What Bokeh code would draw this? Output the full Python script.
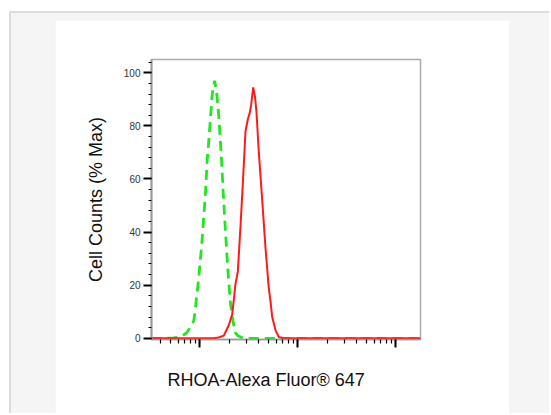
from bokeh.plotting import figure
from bokeh.models import Range1d, SingleIntervalTicker, LogTicker, Title
from bokeh.layouts import column
from bokeh.embed import file_html
from bokeh.resources import INLINE

# ---- data (fluorescence intensity, % of max) ----
control_x = [321, 447, 540, 635, 731, 804, 869, 904, 977, 1058, 1143, 1190, 1265, 1339,
             1413, 1481, 1563, 1653, 1732, 1829, 1931, 2058, 2191, 2312, 2442, 2793,
             4160, 10650, 178600]
control_y = [0, 0, 0.2, 0.5, 2, 4.2, 6.7, 11.7, 23, 37.5, 55, 67, 79.5, 92,
             97, 93.3, 83.3, 69.5, 55, 40, 26, 13, 6, 2, 1, 0,
             0, 0, 0]

rhoa_x = [321, 1380, 1552, 1758, 1977, 2142, 2261, 2312, 2442, 2600, 2771, 2926, 3090,
          3237, 3345, 3505, 3656, 3790, 4000, 4333, 4680, 5055, 5260, 5480, 5920,
          6397, 7140, 178600]
rhoa_y = [0, 0, 0.3, 1, 5, 9, 17, 20.5, 25, 42, 61, 78, 82.5,
          85, 88, 94.5, 91, 85, 70, 52, 34, 19, 14, 8, 3,
          0.5, 0, 0]

y_label = "Cell Counts (% Max)"
x_label = "RHOA-Alexa Fluor\u00ae 647"

FONT = "Liberation Sans"

p = figure(width=454, height=393, x_axis_type="log",
           x_range=Range1d(321.4, 178600), y_range=Range1d(-0.45, 105),
           output_backend="svg", toolbar_location=None,
           min_border_left=96, min_border_right=89,
           min_border_top=39, min_border_bottom=74,
           border_fill_color="white", background_fill_color="white")
p.margin = (7, 40, 0, 44)

p.grid.visible = False
p.outline_line_color = "#aaaaaa"
p.outline_line_width = 1.5

# curves
p.line(control_x, control_y, line_color="#22e622", line_width=2.8, line_dash="10 6")
p.line(rhoa_x, rhoa_y, line_color="#ff1a1a", line_width=2)

# y axis
ya = p.yaxis[0]
ya.ticker = SingleIntervalTicker(interval=20, num_minor_ticks=5)
ya.axis_line_color = "#999999"
ya.axis_line_width = 2
ya.major_tick_in = 0
ya.major_tick_out = 8
ya.minor_tick_in = 0
ya.minor_tick_out = 3
ya.major_tick_line_width = 2
ya.minor_tick_line_width = 1.2
ya.major_tick_line_color = "black"
ya.minor_tick_line_color = "black"
ya.major_label_text_font = FONT
ya.major_label_text_font_size = "10px"
ya.major_label_text_color = "#333333"
ya.major_label_standoff = 3
ya.axis_label = y_label
ya.axis_label_text_font = FONT
ya.axis_label_text_font_size = "18px"
ya.axis_label_text_font_style = "normal"
ya.axis_label_text_color = "#111111"
ya.axis_label_standoff = 15

# x axis
xa = p.xaxis[0]
xa.ticker = LogTicker(num_minor_ticks=10)
xa.axis_line_color = "#999999"
xa.axis_line_width = 1.5
xa.major_tick_in = 0
xa.major_tick_out = 8
xa.minor_tick_in = 0
xa.minor_tick_out = 4
xa.major_tick_line_width = 2
xa.minor_tick_line_width = 1.2
xa.major_tick_line_color = "black"
xa.minor_tick_line_color = "black"
xa.major_label_overrides = {100: "", 1000: "", 10000: "", 100000: "", 1000000: ""}
xa.major_label_text_font_size = "1px"
xa.major_label_standoff = 0

p.add_layout(Title(text=x_label, align="left", offset=16, standoff=40,
                   text_font=FONT, text_font_size="18px", text_font_style="normal",
                   text_color="#111111"), "below")

page = column(p, styles={"background-color": "#f5f5f5",
                         "border-left": "2px solid #dcdcdc",
                         "border-top": "2px solid #dcdcdc",
                         "margin-left": "9px",
                         "margin-top": "11px"})

open("out.html", "w").write(file_html(page, INLINE))
